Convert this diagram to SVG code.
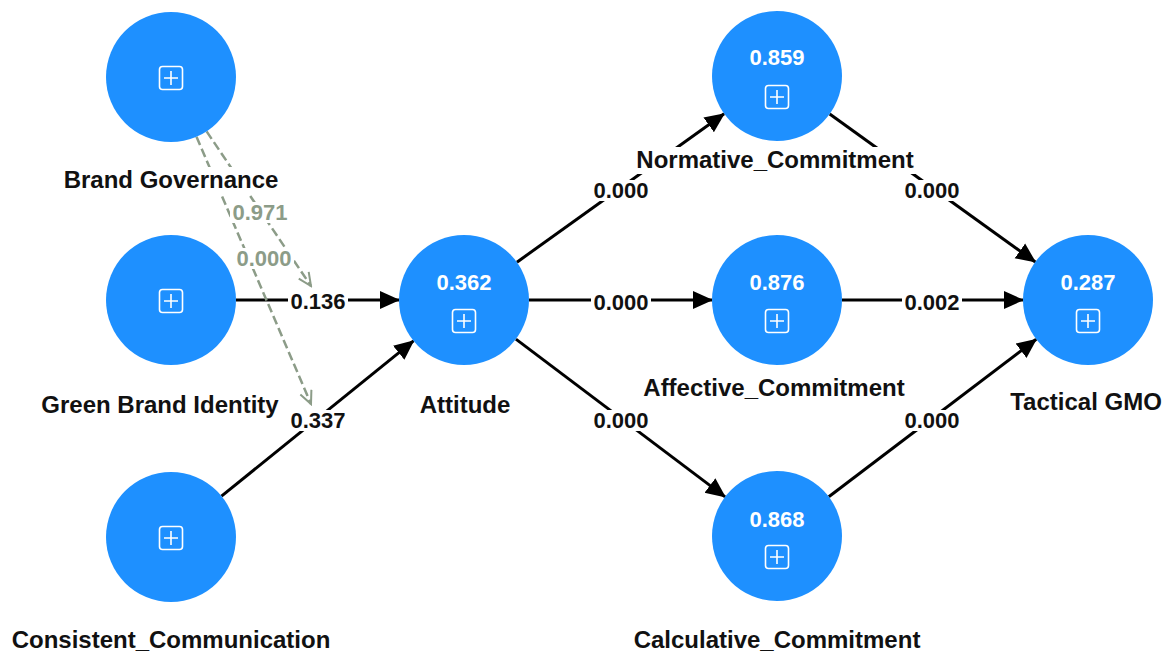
<svg xmlns="http://www.w3.org/2000/svg" width="1169" height="654" viewBox="0 0 1169 654">
<style>
.node{fill:#1e90ff}
.icon{fill:none;stroke:#fff;stroke-width:1.6}
.lbl{font-family:"Liberation Sans",Arial,sans-serif;font-weight:bold;font-size:24px;fill:#111;text-anchor:middle}
.val{font-family:"Liberation Sans",Arial,sans-serif;font-weight:bold;font-size:22px;fill:#fff;text-anchor:middle}
.pl{font-family:"Liberation Sans",Arial,sans-serif;font-weight:bold;font-size:22px;fill:#111;text-anchor:middle}
.ml{font-family:"Liberation Sans",Arial,sans-serif;font-weight:bold;font-size:22px;fill:#8c9c88;text-anchor:middle}
.bg{fill:#fff}
.edge{stroke:#000;stroke-width:3;fill:none}
.dash{stroke:#8c9c88;stroke-width:2.5;fill:none;stroke-dasharray:9 4}
</style>
<defs>
<marker id="ah" markerUnits="userSpaceOnUse" markerWidth="20" markerHeight="20" refX="19" refY="10" orient="auto">
<path d="M0,1 L20,10 L0,19 Z" fill="#000"/>
</marker>
<marker id="oh" markerUnits="userSpaceOnUse" markerWidth="16" markerHeight="16" refX="14" refY="7" orient="auto">
<path d="M1,1 L14,7 L1,13" fill="none" stroke="#8c9c88" stroke-width="2"/>
</marker>
<g id="plus">
<rect x="-11.5" y="-11.5" width="23" height="23" rx="3" class="icon"/>
<path d="M-7,0 H7 M0,-7 V7" class="icon"/>
</g>
</defs>
<rect width="1169" height="654" fill="#fff"/>
<g id="connectors">
<line class="edge" x1="236" y1="300" x2="399" y2="300" marker-end="url(#ah)"/>
<line class="edge" x1="221.5" y1="496.1" x2="413.5" y2="340.9" marker-end="url(#ah)"/>
<line class="edge" x1="516.9" y1="262.2" x2="724.1" y2="113.8" marker-end="url(#ah)"/>
<line class="edge" x1="529" y1="300" x2="712" y2="300" marker-end="url(#ah)"/>
<line class="edge" x1="515.9" y1="339.1" x2="725.1" y2="496.9" marker-end="url(#ah)"/>
<line class="edge" x1="829.7" y1="114" x2="1035.3" y2="262" marker-end="url(#ah)"/>
<line class="edge" x1="842" y1="300" x2="1023" y2="300" marker-end="url(#ah)"/>
<line class="edge" x1="828.8" y1="496.7" x2="1036.2" y2="339.3" marker-end="url(#ah)"/>
<line class="dash" x1="196.5" y1="136.8" x2="311" y2="404" marker-end="url(#oh)"/>
<line class="dash" x1="206.6" y1="131.4" x2="311" y2="286" marker-end="url(#oh)"/>
<rect class="bg" x="288" y="291" width="60" height="21"/>
<rect class="bg" x="288" y="410" width="60" height="21"/>
<rect class="bg" x="591" y="180" width="60" height="21"/>
<rect class="bg" x="591" y="292" width="60" height="21"/>
<rect class="bg" x="591" y="410" width="60" height="21"/>
<rect class="bg" x="902" y="180" width="60" height="21"/>
<rect class="bg" x="902" y="292" width="60" height="21"/>
<rect class="bg" x="902" y="410" width="60" height="21"/>
<rect class="bg" x="230" y="202" width="60" height="21"/>
<rect class="bg" x="234" y="248" width="60" height="21"/>
<text class="pl" x="318" y="309">0.136</text>
<text class="pl" x="318" y="428">0.337</text>
<text class="pl" x="621" y="198">0.000</text>
<text class="pl" x="621" y="310">0.000</text>
<text class="pl" x="621" y="428">0.000</text>
<text class="pl" x="932" y="198">0.000</text>
<text class="pl" x="932" y="310">0.002</text>
<text class="pl" x="932" y="428">0.000</text>
<text class="ml" x="260" y="220">0.971</text>
<text class="ml" x="264" y="266">0.000</text>
</g>
<g id="brand-governance">
<circle class="node" cx="171" cy="77" r="65"/>
<use href="#plus" x="171" y="78"/>
<rect class="bg" x="60" y="167" width="222" height="27"/>
<text class="lbl" x="171" y="188">Brand Governance</text>
</g>
<g id="green-brand-identity">
<circle class="node" cx="171" cy="300" r="65"/>
<use href="#plus" x="171" y="301"/>
<text class="lbl" x="160" y="413">Green Brand Identity</text>
</g>
<g id="consistent-communication">
<circle class="node" cx="171" cy="537" r="65"/>
<use href="#plus" x="171" y="538"/>
<text class="lbl" x="171" y="648">Consistent_Communication</text>
</g>
<g id="attitude">
<circle class="node" cx="464" cy="300" r="65"/>
<text class="val" x="464" y="290">0.362</text>
<use href="#plus" x="464" y="321"/>
<text class="lbl" x="465" y="413">Attitude</text>
</g>
<g id="normative-commitment">
<circle class="node" cx="777" cy="76" r="65"/>
<text class="val" x="777" y="65">0.859</text>
<use href="#plus" x="777" y="97"/>
<rect class="bg" x="633" y="147" width="284" height="27"/>
<text class="lbl" x="775" y="168">Normative_Commitment</text>
</g>
<g id="affective-commitment">
<circle class="node" cx="777" cy="300" r="65"/>
<text class="val" x="777" y="290">0.876</text>
<use href="#plus" x="777" y="321"/>
<text class="lbl" x="774" y="396">Affective_Commitment</text>
</g>
<g id="calculative-commitment">
<circle class="node" cx="777" cy="536" r="65"/>
<text class="val" x="777" y="527">0.868</text>
<use href="#plus" x="777" y="557"/>
<text class="lbl" x="777" y="648">Calculative_Commitment</text>
</g>
<g id="tactical-gmo">
<circle class="node" cx="1088" cy="300" r="65"/>
<text class="val" x="1088" y="290">0.287</text>
<use href="#plus" x="1088" y="321"/>
<text class="lbl" x="1086" y="410">Tactical GMO</text>
</g>
</svg>
